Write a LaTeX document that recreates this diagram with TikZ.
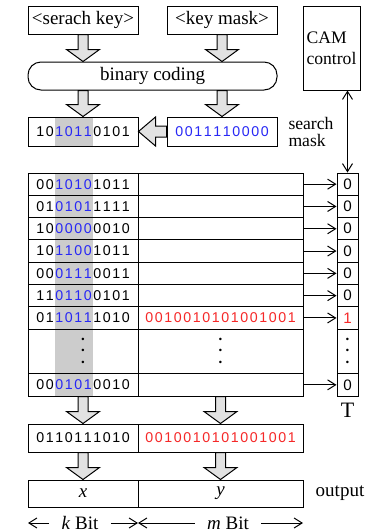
\documentclass[tikz,border=0pt]{standalone}
\usepackage{fontspec}
\setmainfont{Liberation Serif}
\newfontfamily\bitfont{Liberation Sans}
\usetikzlibrary{arrows.meta,backgrounds,calc}

\definecolor{maskblue}{RGB}{40,40,245}
\definecolor{hitred}{RGB}{245,40,40}
\definecolor{stripegray}{RGB}{204,204,204}
\definecolor{fatgray}{RGB}{226,226,226}

% one digit per fixed slot
\newcommand\bitslot[1]{\makebox[4.75pt]{#1}}
\def\bitloop#1{\ifx#1\relax\else\bitslot{#1}\expandafter\bitloop\fi}
\newcommand\bitrun[1]{\edef\bitstmp{#1}\expandafter\bitloop\bitstmp\relax}
\newcommand\bits[3]{\bitrun{#1}\textcolor{maskblue}{\bitrun{#2}}\bitrun{#3}}
\newcommand\hitbits{\textcolor{hitred}{\bitrun{0010010101001001}}}
% three stacked dots
\newcommand\dotstack{\vbox{\fontsize{4.6}{5.75}\selectfont\baselineskip5.75pt\lineskiplimit0pt
  \hbox{•}\hbox{•}\hbox{•}}}

\begin{document}
\begin{tikzpicture}[
    x=0.5pt, y=-0.5pt, line width=0.5pt,
    >={Straight Barb[length=4pt,width=5pt]},
    box/.style={draw, inner sep=0pt, align=center, font=\fontsize{9.5}{11}\selectfont},
    keybox/.style={box, minimum width=55pt, minimum height=14pt},
    regbox/.style={box, minimum width=55pt, minimum height=14.5pt, font=\bitfont\fontsize{7.1}{8}\selectfont},
    cell/.style={draw, inner sep=0pt, minimum height=11.15pt, font=\bitfont\fontsize{7.1}{8}\selectfont},
    keycell/.style={cell, minimum width=55pt},
    datcell/.style={cell, minimum width=82.5pt},
    tcell/.style={cell, minimum width=10.5pt, font=\bitfont\fontsize{7.6}{8}\selectfont},
    dotcell/.style={minimum height=22.3pt},
    label/.style={font=\fontsize{8.8}{8.5}\selectfont, align=left, inner sep=0pt},
    fatdown/.style={draw, fill=fatgray, to path={let \p1=(\tikztostart), \p2=(\tikztotarget) in
        (\x1-2.5pt,\y1) -- (\x1-2.5pt,\y2+6pt) -- (\x1-8.25pt,\y2+6pt) -- (\x1,\y2)
        -- (\x1+8.25pt,\y2+6pt) -- (\x1+2.5pt,\y2+6pt) -- (\x1+2.5pt,\y1) -- cycle}},
    fatleft/.style={draw, fill=fatgray, to path={let \p1=(\tikztostart), \p2=(\tikztotarget) in
        (\x1,\y1+2.75pt) -- (\x2+8.5pt,\y1+2.75pt) -- (\x2+8.5pt,\y1+7.25pt) -- (\x2,\y1)
        -- (\x2+8.5pt,\y1-7.25pt) -- (\x2+8.5pt,\y1-2.75pt) -- (\x1,\y1-2.75pt) -- cycle}},
]
\useasboundingbox (0,0) rectangle (381,531);

% inputs
\node[keybox] (skey) at (83,20) {<serach key>};
\node[keybox] (kmask) at (222,20) {<key mask>};
\node[box, minimum width=28.5pt, minimum height=42pt, align=left, font=\fontsize{8.8}{10.5}\selectfont] (cam) at (331.5,48) {CAM\\control};

% coding
\node[box, rounded corners=6.5pt, minimum width=124.5pt, minimum height=14pt] (bcode) at (152.5,76) {binary coding};
\draw[fatdown] (skey.south) to (bcode.north);
\draw[fatdown] (kmask.south) to (bcode.north);

% registers
\node[regbox] (kreg) at (83,131.5) {\bits{10}{1011}{0101}};
\node[regbox] (mreg) at (222,131.5) {\textcolor{maskblue}{\bitrun{0011110000}}};
\node[label, anchor=west] (smask) at (288,131.5) {search\\mask};
\draw[fatdown] (bcode.south -| kreg.north) to (kreg.north);
\draw[fatdown] (bcode.south -| mreg.north) to (mreg.north);
\draw[fatleft] (mreg.west) to (kreg.east);

% memory table
\foreach \i/\a/\b/\c in {1/00/1010/1011, 2/01/0101/1111, 3/10/0000/0010, 4/10/1100/1011,
    5/00/0111/0011, 6/11/0110/0101, 7/01/1011/1010, 10/00/0101/0010}
{
  \node[keycell] (key\i) at (83,{173+22.3*(\i-0.5)}) {\bits{\a}{\b}{\c}};
  \node[datcell] (dat\i) at (220.5,{173+22.3*(\i-0.5)}) {\ifnum\i=7 \hitbits\fi};
  \node[tcell] (t\i) at (347.5,{173+22.3*(\i-0.5)}) {\ifnum\i=7 \textcolor{hitred}{1}\else 0\fi};
  \draw[->] (dat\i) -- (t\i);
}
\node[keycell, dotcell] (keydots) at (83,351.4) {\dotstack};
\node[datcell, dotcell] (datdots) at (220.5,351.4) {\dotstack};
\node[tcell, dotcell] (tdots) at (347.5,351.4) {\dotstack};
\node[font=\fontsize{11}{12}\selectfont] (tlabel) at (347.5,410) {T};
\draw[<->] (cam.south -| t1.north) -- (t1.north);

% highlighted mask columns
\begin{scope}[on background layer]
  \fill[stripegray] (54.5,117) rectangle (92.5,146);
  \fill[stripegray] (54.5,173) rectangle (92.5,396);
\end{scope}

% result
\node[regbox, minimum height=14pt] (rkey) at (83,438) {\bitrun{0110111010}};
\node[regbox, minimum width=82.5pt, minimum height=14pt] (rdat) at (220.5,438) {\hitbits};
\draw[fatdown] (key10.south) to (rkey.north);
\draw[fatdown] (dat10.south) to (rdat.north);

% output
\node[keybox, minimum height=13.5pt] (okey) at (83,493.5) {\textit{x}};
\node[keybox, minimum width=82.5pt, minimum height=13.5pt] (odat) at (220.5,493.5) {\textit{y}};
\node[font=\fontsize{9.5}{11}\selectfont] (outlabel) at (340,493.5) {output};
\draw[fatdown] (rkey.south) to (okey.north);
\draw[fatdown] (rdat.south) to (odat.north);

% widths
\coordinate (kl) at (28,523);
\coordinate (km) at (138,523);
\coordinate (mr) at (303,523);
\node[font=\fontsize{9.5}{11}\selectfont, inner sep=6pt] (kbit) at (80,523) {\textit{k} Bit};
\node[font=\fontsize{9.5}{11}\selectfont, inner sep=6pt] (mbit) at (228,523) {\textit{m} Bit};
\draw[->] (kbit.west) -- (kl);
\draw[->] (kbit.east) -- (km);
\draw[->] (mbit.west) -- (km);
\draw[->] (mbit.east) -- (mr);

\end{tikzpicture}
\end{document}
